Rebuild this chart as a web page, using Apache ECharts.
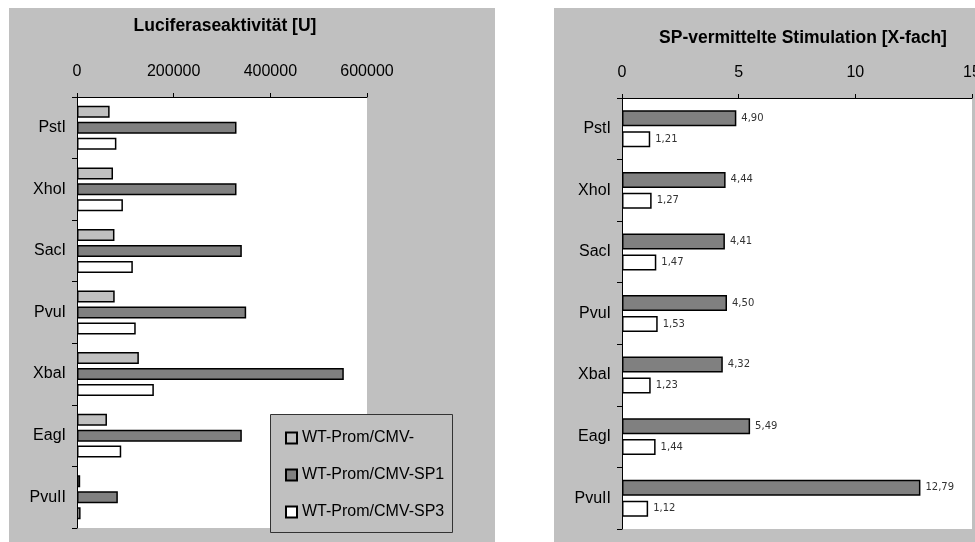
<!DOCTYPE html>
<html>
<head>
<meta charset="utf-8">
<script src="https://cdn.jsdelivr.net/npm/echarts@6/dist/echarts.min.js"></script>
<style>
  html, body { margin: 0; padding: 0; background: #ffffff; }
  #chart { width: 975px; height: 542px; }
</style>
</head>
<body>
<div id="chart"></div>
<script>
// Restriction sites tested
const categories = ['PstI', 'XhoI', 'SacI', 'PvuI', 'XbaI', 'EagI', 'PvuII'];

// Luciferase activity [U]
const seriesNames = ['WT-Prom/CMV-', 'WT-Prom/CMV-SP1', 'WT-Prom/CMV-SP3'];
const wtValues  = [67500, 74500, 77500, 78000, 128000, 62000, 6600];
const sp1Values = [330000, 330000, 341000, 350000, 552000, 341000, 84500];
const sp3Values = [81500, 95000, 115500, 121500, 159000, 91500, 7400];

// SP-mediated stimulation [fold]
const sp1Fold = [4.90, 4.44, 4.41, 4.50, 4.32, 5.49, 12.79];
const sp3Fold = [1.21, 1.27, 1.47, 1.53, 1.23, 1.44, 1.12];

// Axis ticks
const activityTicks = { min: 0, max: 600000, interval: 200000 };
const foldTicks = { min: 0, max: 15, interval: 5 };

const FONT = '"Liberation Sans", Arial, sans-serif';
const fills = ['#C0C0C0', '#808080', '#FFFFFF'];

const chart = echarts.init(document.getElementById('chart'), null, { renderer: 'canvas' });

function valueAxis(gridIndex, ticks) {
  return {
    type: 'value', gridIndex, position: 'top',
    min: ticks.min, max: ticks.max, interval: ticks.interval,
    axisLine: { show: true, lineStyle: { color: '#000', width: 1 } },
    axisTick: { show: true, length: 4, lineStyle: { color: '#000' } },
    axisLabel: { fontFamily: FONT, fontSize: 16, color: '#000', margin: 17,
      formatter: v => String(v) },
    splitLine: { show: false }
  };
}
function categoryAxis(gridIndex) {
  return {
    type: 'category', gridIndex, data: categories, inverse: true,
    axisLine: { show: true, lineStyle: { color: '#000', width: 1 } },
    axisTick: { show: true, length: 5, lineStyle: { color: '#000' } },
    axisLabel: { fontFamily: FONT, fontSize: 16, color: '#000', margin: 11 }
  };
}
const commaFmt = p => p.value.toFixed(2).replace('.', ',');

chart.setOption({
  animation: false,
  title: [
    { text: 'Luciferaseaktivität [U]', left: 220, top: 12, textAlign: 'center',
      textStyle: { fontFamily: FONT, fontSize: 17.5, fontWeight: 'bold', color: '#000' } },
    { text: 'SP-vermittelte Stimulation [X-fach]', left: 798, top: 24, textAlign: 'center',
      textStyle: { fontFamily: FONT, fontSize: 17.5, fontWeight: 'bold', color: '#000' } }
  ],
  graphic: { elements: [
    { type: 'rect', z: -10, shape: { x: 9, y: 8, width: 486, height: 534 }, style: { fill: '#C0C0C0' } },
    { type: 'rect', z: -10, shape: { x: 554, y: 8, width: 421, height: 534 }, style: { fill: '#C0C0C0' } },
    { type: 'rect', z: 3, shape: { x: 270.5, y: 414.5, width: 182, height: 118 },
      style: { fill: '#C0C0C0', stroke: '#333', lineWidth: 1 } }
  ] },
  legend: {
    data: seriesNames, orient: 'vertical', left: 280, top: 425, z: 5,
    itemWidth: 11, itemHeight: 11, itemGap: 21, icon: 'rect', selectedMode: false,
    textStyle: { fontFamily: FONT, fontSize: 16, color: '#000' }
  },
  grid: [
    { left: 77, top: 97, width: 290, height: 431, show: true, backgroundColor: '#fff', borderWidth: 0,
      outerBoundsMode: 'none' },
    { left: 622, top: 98, width: 350, height: 431, show: true, backgroundColor: '#fff', borderWidth: 0,
      outerBoundsMode: 'none' }
  ],
  xAxis: [valueAxis(0, activityTicks), valueAxis(1, foldTicks)],
  yAxis: [categoryAxis(0), categoryAxis(1)],
  series: [
    ...[wtValues, sp1Values, sp3Values].map((vals, i) => ({
      name: seriesNames[i], type: 'bar', xAxisIndex: 0, yAxisIndex: 0,
      data: vals, barWidth: 12, barGap: '33%',
      itemStyle: { color: fills[i], borderColor: '#000', borderWidth: 1.5 }
    })),
    ...[sp1Fold, sp3Fold].map((vals, i) => ({
      name: 'Stimulation ' + (i === 0 ? 'SP1' : 'SP3'), type: 'bar', xAxisIndex: 1, yAxisIndex: 1,
      data: vals, barWidth: 16, barGap: '31%',
      itemStyle: { color: fills[i + 1], borderColor: '#000', borderWidth: 1.5 },
      label: { show: true, position: 'right', distance: 5, formatter: commaFmt,
        fontFamily: '"DejaVu Sans", sans-serif', fontSize: 10, color: '#333' }
    }))
  ]
});
</script>
</body>
</html>
